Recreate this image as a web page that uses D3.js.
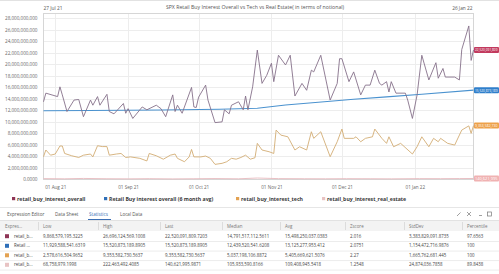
<!DOCTYPE html>
<html><head><meta charset="utf-8">
<script src="https://cdn.jsdelivr.net/npm/d3@7"></script>
<style>html,body{margin:0;padding:0;background:#fff;overflow:hidden}svg{display:block}text{font-family:"Open Sans",sans-serif}</style>
</head><body><svg id="c" width="499" height="274"></svg>
<script>
// ---------- DATA (values in billions) ----------
const chartTitle = "SPX Retail Buy Interest Overall vs Tech vs Real Estate( in terms of notional)";
const overallDates = ["2021-07-27","2021-07-28","2021-08-02","2021-08-03","2021-08-04","2021-08-06","2021-08-09","2021-08-11","2021-08-13","2021-08-16","2021-08-17","2021-08-19","2021-08-20","2021-08-23","2021-08-24","2021-08-26","2021-08-30","2021-08-31","2021-09-01","2021-09-03","2021-09-07","2021-09-09","2021-09-13","2021-09-15","2021-09-17","2021-09-20","2021-09-21","2021-09-22","2021-09-24","2021-09-28","2021-09-29","2021-09-30","2021-10-01","2021-10-04","2021-10-05","2021-10-08","2021-10-11","2021-10-12","2021-10-14","2021-10-15","2021-10-18","2021-10-20","2021-10-21","2021-10-22","2021-10-24","2021-10-26","2021-10-28","2021-10-30","2021-11-01","2021-11-02","2021-11-04","2021-11-07","2021-11-09","2021-11-11","2021-11-14","2021-11-16","2021-11-18","2021-11-19","2021-11-22","2021-11-26","2021-11-29","2021-11-30","2021-12-01","2021-12-04","2021-12-06","2021-12-09","2021-12-11","2021-12-13","2021-12-15","2021-12-17","2021-12-18","2021-12-20","2021-12-21","2021-12-22","2021-12-24","2021-12-28","2021-12-29","2021-12-31","2022-01-02","2022-01-04","2022-01-07","2022-01-10","2022-01-11","2022-01-13","2022-01-14","2022-01-18","2022-01-20","2022-01-21","2022-01-24","2022-01-25","2022-01-26"];
const overallValues = [13.5,15.0,14.4,16.1,14.7,11.8,13.8,13.9,10.9,13.8,12.9,14.4,12.9,14.8,11.8,11.4,13.2,11.5,12.3,10.6,12.6,12.1,12.9,12.3,10.9,14.7,11.8,12.9,11.5,16.0,12.6,12.5,14.3,16.4,13.8,9.87,10.0,12.1,11.4,12.9,13.5,12.1,14.5,12.1,16.1,22.5,16.7,18.1,20.2,17.0,21.6,19.9,21.6,14.5,16.7,15.5,19.0,18.7,21.6,13.8,16.7,21.0,21.0,17.0,18.7,14.7,16.4,16.4,19.0,16.7,16.4,17.0,15.2,17.0,15.0,15.0,13.8,10.6,14.7,21.6,17.3,20.3,17.6,19.3,17.8,17.8,17.3,22.6,26.7,20.7,22.52];
const avgDates = ["2021-07-27","2021-08-15","2021-09-15","2021-10-10","2021-10-26","2021-11-07","2021-11-26","2021-12-06","2021-12-20","2022-01-04","2022-01-26"];
const avgValues = [11.93,11.98,12.08,12.2,12.38,12.95,13.6,13.95,14.35,14.8,15.52];
const techDates = ["2021-07-27","2021-07-28","2021-07-30","2021-08-01","2021-08-03","2021-08-04","2021-08-05","2021-08-08","2021-08-11","2021-08-13","2021-08-16","2021-08-17","2021-08-19","2021-08-21","2021-08-23","2021-08-24","2021-08-27","2021-08-29","2021-08-31","2021-09-02","2021-09-06","2021-09-09","2021-09-10","2021-09-13","2021-09-16","2021-09-19","2021-09-21","2021-09-22","2021-09-25","2021-09-27","2021-09-28","2021-09-29","2021-10-02","2021-10-04","2021-10-06","2021-10-08","2021-10-11","2021-10-13","2021-10-15","2021-10-17","2021-10-19","2021-10-21","2021-10-23","2021-10-25","2021-10-26","2021-10-28","2021-10-31","2021-11-02","2021-11-03","2021-11-05","2021-11-08","2021-11-11","2021-11-13","2021-11-16","2021-11-18","2021-11-19","2021-11-22","2021-11-26","2021-11-29","2021-12-01","2021-12-02","2021-12-06","2021-12-07","2021-12-09","2021-12-11","2021-12-14","2021-12-15","2021-12-18","2021-12-20","2021-12-21","2021-12-23","2021-12-26","2021-12-31","2022-01-02","2022-01-04","2022-01-07","2022-01-09","2022-01-11","2022-01-12","2022-01-15","2022-01-18","2022-01-19","2022-01-21","2022-01-24","2022-01-25","2022-01-26"];
const techValues = [3.93,5.1,4.2,4.4,5.8,5.8,4.5,4.1,3.8,4.2,4.4,3.9,5.85,5.7,5.7,4.2,4.4,4.5,3.8,3.9,3.65,3.2,4.5,4.1,3.5,4.2,4.4,3.65,3.06,3.9,5.2,3.9,3.9,4.05,3.65,2.6,2.78,3.06,3.65,3.5,3.8,4.2,3.5,3.75,6.26,5.1,4.8,4.5,8.57,7.7,7.4,5.1,5.67,5.1,8.28,7.13,8.28,3.93,6.54,8.75,7.13,7.13,7.4,6.54,7.13,7.4,8.75,7.13,6.26,7.4,5.67,6.26,4.4,5.67,7.4,5.67,7.13,6.54,7.13,6.26,5.96,6.84,8.57,9.3,8.0,9.35];
const realEstateDates = ["2021-07-27","2021-08-05","2021-08-13","2021-08-23","2021-09-01","2021-09-10","2021-09-20","2021-09-29","2021-10-08","2021-10-18","2021-10-26","2021-11-04","2021-11-15","2021-11-24","2021-12-03","2021-12-13","2021-12-22","2022-01-03","2022-01-12","2022-01-20","2022-01-26"];
const realEstateValues = [0.12,0.09,0.15,0.10,0.08,0.11,0.069,0.10,0.13,0.09,0.222,0.12,0.10,0.09,0.11,0.10,0.08,0.12,0.11,0.13,0.1406];
const yTicks = [0,2,4,6,8,10,12,14,16,18,20,22,24,26,28];
const seriesNames = ["retail_buy_interest_overall","Retail Buy interest overall (6 month avg)","retail_buy_interest_tech","retail_buy_interest_real_estate"];
const lastLabels = ["22,520,091,809","15,520,873,189","9,353,582,730","140,621,995"];
const tabNames = ["Expression Editor","Data Sheet","Statistics","Local Data"];
const statHeaders = ["Expres...","Low","High","Last","Median","Avg","Zscore","StdDev","Percentile"];
const statNames = ["retail_b...","Retail ...","retail_b...","retail_b..."];
const statLow = ["9,868,579,195.3225","11,929,588,541.6319","2,578,616,504.9652","68,758,979.1998"];
const statHigh = ["26,696,124,569.1008","15,520,873,189.8905","9,353,582,730.5637","222,463,492.4085"];
const statLast = ["22,520,091,809.7203","15,520,873,189.8905","9,353,582,730.5637","140,621,995.9871"];
const statMedian = ["14,791,517,112.5611","12,439,520,541.6208","5,037,198,106.8872","105,933,590.8166"];
const statAvg = ["15,498,250,037.0383","13,125,277,953.412","5,405,669,621.5076","109,408,945.5418"];
const statZscore = ["2.016","2.0751","2.27","1.2548"];
const statStdDev = ["3,383,829,091.8735","1,154,472,716.9876","1,665,762,681.445","24,874,036.7858"];
const statPercentile = ["97.6563","100","100","89.8438"];

// ---------- STYLE ----------
const lineColors = ["#86708a","#4a92cf","#d2ad74","#e6b9bd"];
const swatchColors = ["#8e3556","#2f6fb8","#e3a252","#e8c3c3"];
const boxColors = ["#c23a5e","#2f7fcb","#eda14a","#f0b2b2"];

const svg = d3.select("#c");
const parse = d3.utcParse("%Y-%m-%d");
const L = 43.5, R = 473.5, T = 13.5, B = 179.5;
const x = d3.scaleUtc().domain([parse("2021-07-27"), parse("2022-01-26")]).range([L, R]);
const y = d3.scaleLinear().domain([0, 28.87]).range([179.3, T]);

svg.append("rect").attr("width",499).attr("height",274).attr("fill","#fff");
svg.append("line").attr("x1",0).attr("x2",499).attr("y1",0.5).attr("y2",0.5).attr("stroke","#e2e2e2");

// gridlines
const monthTicks = x.ticks(d3.utcMonth.every(1)).filter(d => +d > +x.domain()[0]);
svg.append("g").selectAll("line").data(yTicks).join("line")
  .attr("x1",L).attr("x2",R).attr("y1",d=>Math.round(y(d))+0.5).attr("y2",d=>Math.round(y(d))+0.5)
  .attr("stroke","#ededed");
svg.append("g").selectAll("line").data(monthTicks).join("line")
  .attr("x1",d=>Math.round(x(d))+0.5).attr("x2",d=>Math.round(x(d))+0.5).attr("y1",T).attr("y2",B)
  .attr("stroke","#ededed");
svg.append("rect").attr("x",L).attr("y",T).attr("width",R-L).attr("height",B-T)
  .attr("fill","none").attr("stroke","#d6d6d6");

// axes
const yAxis = svg.append("g").attr("transform",`translate(${L-3},0)`)
  .call(d3.axisLeft(y).tickValues(yTicks).tickSize(0).tickFormat(d => d===0 ? "0.0000" : d3.format(",")(d*1e9)));
yAxis.select(".domain").remove();
yAxis.selectAll("text").attr("font-size",4.6).attr("fill","#666").attr("font-family","Open Sans");
const xAxis = svg.append("g").attr("transform",`translate(0,${B+3})`)
  .call(d3.axisBottom(x).tickValues(monthTicks).tickSize(0).tickFormat(d3.utcFormat("%d %b %y")));
xAxis.select(".domain").remove();
xAxis.selectAll("text").attr("font-size",4.6).attr("fill","#666").attr("font-family","Open Sans");

svg.append("text").attr("x",L).attr("y",10).attr("font-size",4.8).attr("fill","#555").text(d3.utcFormat("%d %b %y")(x.domain()[0]));
svg.append("text").attr("x",R-1).attr("y",10).attr("text-anchor","end").attr("font-size",4.8).attr("fill","#555").text(d3.utcFormat("%d %b %y")(x.domain()[1]));
svg.append("text").attr("x",255).attr("y",9).attr("text-anchor","middle").attr("font-size",5.2).attr("fill","#555").text(chartTitle);

// lines
const series = [
  [overallDates, overallValues],
  [avgDates, avgValues],
  [techDates, techValues],
  [realEstateDates, realEstateValues]
];
const line = d3.line().x(d=>x(d[0])).y(d=>y(d[1]));
const order = [3,2,1,0];
order.forEach(i => {
  const [ds, vs] = series[i];
  const pts = ds.map((d,k)=>[parse(d), vs[k]]);
  svg.append("path").datum(pts).attr("d",line).attr("fill","none")
    .attr("stroke",lineColors[i]).attr("stroke-width", i===1 ? 1.1 : 0.9).attr("stroke-linejoin","round");
});

// last-value boxes
series.forEach(([ds, vs], i) => {
  const yy = y(vs[vs.length-1]);
  const g = svg.append("g").attr("transform",`translate(${R+0.5},${yy})`);
  g.append("rect").attr("x",0).attr("y",-3).attr("width",25).attr("height",6).attr("rx",1).attr("fill",boxColors[i]);
  g.append("text").attr("x",1).attr("y",1.4).attr("font-size",3.6).attr("fill","#fff")
    .attr("textLength",22.5).attr("lengthAdjust","spacingAndGlyphs").text(lastLabels[i]);
});

// legend
const legendX = [12, 104, 236, 322];
seriesNames.forEach((n,i) => {
  svg.append("rect").attr("x",legendX[i]).attr("y",197).attr("width",3.2).attr("height",3.2).attr("fill",swatchColors[i]);
  svg.append("text").attr("x",legendX[i]+5).attr("y",200.6).attr("font-size",5.2).attr("font-weight","bold").attr("fill","#3a3a3a").text(n);
});

// tabs
svg.append("line").attr("x1",0).attr("x2",499).attr("y1",207.5).attr("y2",207.5).attr("stroke","#e6e6e6");
const tabX = [7, 55, 89, 120];
tabNames.forEach((t,i) => {
  svg.append("text").attr("x",tabX[i]).attr("y",215.8).attr("font-size",4.6)
    .attr("fill", i===2 ? "#3b6fb5" : "#555").text(t);
});
svg.append("line").attr("x1",0).attr("x2",499).attr("y1",220.5).attr("y2",220.5).attr("stroke","#e2e2e2");
svg.append("line").attr("x1",88).attr("x2",111).attr("y1",219.5).attr("y2",219.5).attr("stroke","#3b6fb5").attr("stroke-width",1);
// icons
const ic = svg.append("g").attr("stroke","#777").attr("stroke-width",0.7).attr("fill","none");
ic.append("line").attr("x1",457).attr("y1",216).attr("x2",460.5).attr("y2",212.5);
ic.append("line").attr("x1",467).attr("y1",212).attr("x2",471).attr("y2",216);
ic.append("line").attr("x1",467).attr("y1",216).attr("x2",471).attr("y2",212);
ic.append("line").attr("x1",479).attr("y1",215.5).attr("x2",482).attr("y2",215.5);
ic.append("rect").attr("x",487.5).attr("y",212).attr("width",4).attr("height",4);

// table
const colX = [14, 43, 103, 165, 227, 285, 350, 409, 467];
const cols = [statNames, statLow, statHigh, statLast, statMedian, statAvg, statZscore, statStdDev, statPercentile];
svg.append("rect").attr("x",0).attr("y",221).attr("width",499).attr("height",10).attr("fill","#f3f3f3");
statHeaders.forEach((h,j) => {
  svg.append("text").attr("x", j===0 ? 5 : colX[j]).attr("y",227.6).attr("font-size",4.4).attr("fill","#777").text(h);
  if (j>0) svg.append("line").attr("x1",colX[j]-4.5).attr("x2",colX[j]-4.5).attr("y1",222).attr("y2",230).attr("stroke","#dcdcdc");
});
const rowY = [236.2, 245.8, 255.3, 264.8];
rowY.forEach((ry,i) => {
  svg.append("line").attr("x1",0).attr("x2",499).attr("y1",ry+5.3).attr("y2",ry+5.3).attr("stroke","#ececec");
  svg.append("rect").attr("x",5).attr("y",ry-2).attr("width",4).attr("height",4).attr("fill",swatchColors[i]);
  cols.forEach((c,j) => {
    svg.append("text").attr("x",colX[j]).attr("y",ry+1.6).attr("font-size",4.4).attr("fill","#444").text(c[i]);
  });
});
</script></body></html>
